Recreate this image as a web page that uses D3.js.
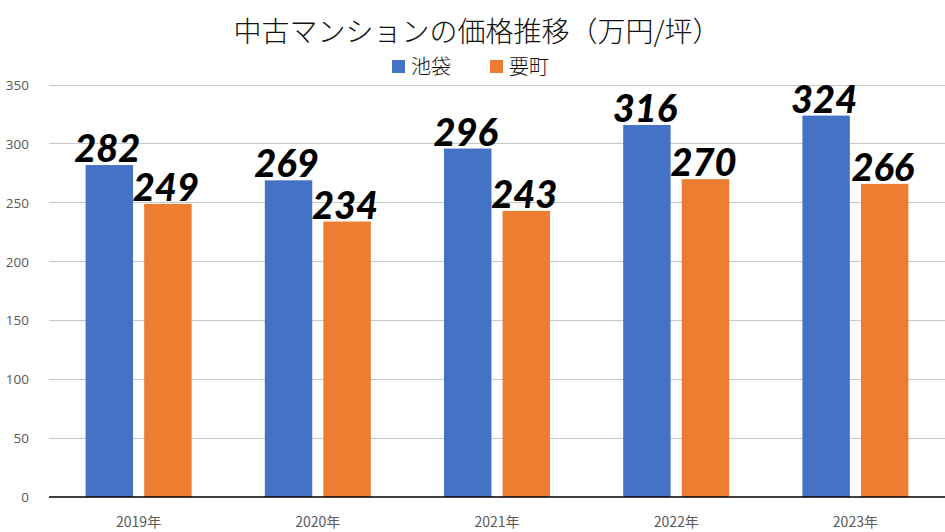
<!DOCTYPE html>
<html><head><meta charset="utf-8">
<script src="https://cdn.jsdelivr.net/npm/d3@7"></script>
<style>body{margin:0;background:#fff}svg{display:block}</style>
</head><body><svg id="c" width="945" height="532"></svg>
<script>
const categories = ["2019年","2020年","2021年","2022年","2023年"];
const seriesNames = ["池袋","要町"];
const ikebukuro = [282,269,296,316,324];
const kanamecho = [249,234,243,270,266];
const yTicks = [0,50,100,150,200,250,300,350];
const colors = ["#4472C4","#ED7D31"];
const title = "中古マンションの価格推移（万円/坪）";

(function(){
const svg = d3.select("#c");
const mLeft = 49, mRight = 945, mTop = 85, mBottom = 497;
const x = d3.scaleBand().domain(categories).range([mLeft,mRight]).paddingInner(0).paddingOuter(0);
const y = d3.scaleLinear().domain([0,350]).range([mBottom,mTop]);
const sub = d3.scaleBand().domain(seriesNames).range([x.bandwidth()/2-53, x.bandwidth()/2+53]).paddingInner(0.19).paddingOuter(0);

const font = "'Noto Sans CJK JP','Noto Sans',sans-serif";
svg.append("g").selectAll("line").data(yTicks.filter(d=>d>0)).join("line")
  .attr("x1",mLeft).attr("x2",mRight).attr("y1",d=>y(d)).attr("y2",d=>y(d))
  .attr("stroke","#c8c8c8").attr("stroke-width",1).attr("shape-rendering","crispEdges");
svg.append("g").selectAll("text").data(yTicks).join("text")
  .attr("x",29).attr("y",d=>y(d)+5).attr("text-anchor","end")
  .attr("font-family","'Open Sans',sans-serif").attr("font-size",13.5).attr("fill","#595959").text(d=>d);

const data = categories.map((c,i)=>({c, vals:[ikebukuro[i],kanamecho[i]]}));
const g = svg.append("g").selectAll("g").data(data).join("g").attr("transform",d=>`translate(${x(d.c)},0)`);
g.selectAll("rect").data(d=>d.vals.map((v,j)=>({v,s:seriesNames[j],j}))).join("rect")
  .attr("x",d=>sub(d.s)).attr("width",sub.bandwidth())
  .attr("y",d=>y(d.v)).attr("height",d=>y(0)-y(d.v)).attr("fill",d=>colors[d.j]);
g.selectAll("text.lbl").data(d=>d.vals.map((v,j)=>({v,s:seriesNames[j],j}))).join("text").attr("class","lbl")
  .attr("x",d=>sub(d.s)+sub.bandwidth()/2-2).attr("y",d=>y(d.v)-3).attr("text-anchor","middle")
  .attr("font-family","Lato,'Open Sans',sans-serif").attr("font-weight","900").attr("font-style","italic")
  .attr("font-size",38).attr("fill","#000").text(d=>d.v);

svg.append("line").attr("x1",mLeft).attr("x2",mRight).attr("y1",y(0)).attr("y2",y(0))
  .attr("stroke","#000").attr("stroke-width",1.5);
svg.append("g").selectAll("text").data(categories).join("text")
  .attr("x",d=>x(d)+x.bandwidth()/2).attr("y",527).attr("text-anchor","middle")
  .attr("font-family",font).attr("font-size",14).attr("fill","#595959").text(d=>d);

svg.append("text").attr("x",477).attr("y",42).attr("text-anchor","middle")
  .attr("font-family",font).attr("font-size",28).attr("font-weight",300).attr("fill","#111").text(title);
const leg = svg.append("g");
const legX = [392, 490];
seriesNames.forEach((n,i)=>{
  leg.append("rect").attr("x",legX[i]).attr("y",60).attr("width",13).attr("height",13).attr("fill",colors[i]);
  leg.append("text").attr("x",legX[i]+19).attr("y",74).attr("font-family",font).attr("font-size",20)
    .attr("font-weight",300).attr("fill","#111").text(n);
});
})();
</script></body></html>
